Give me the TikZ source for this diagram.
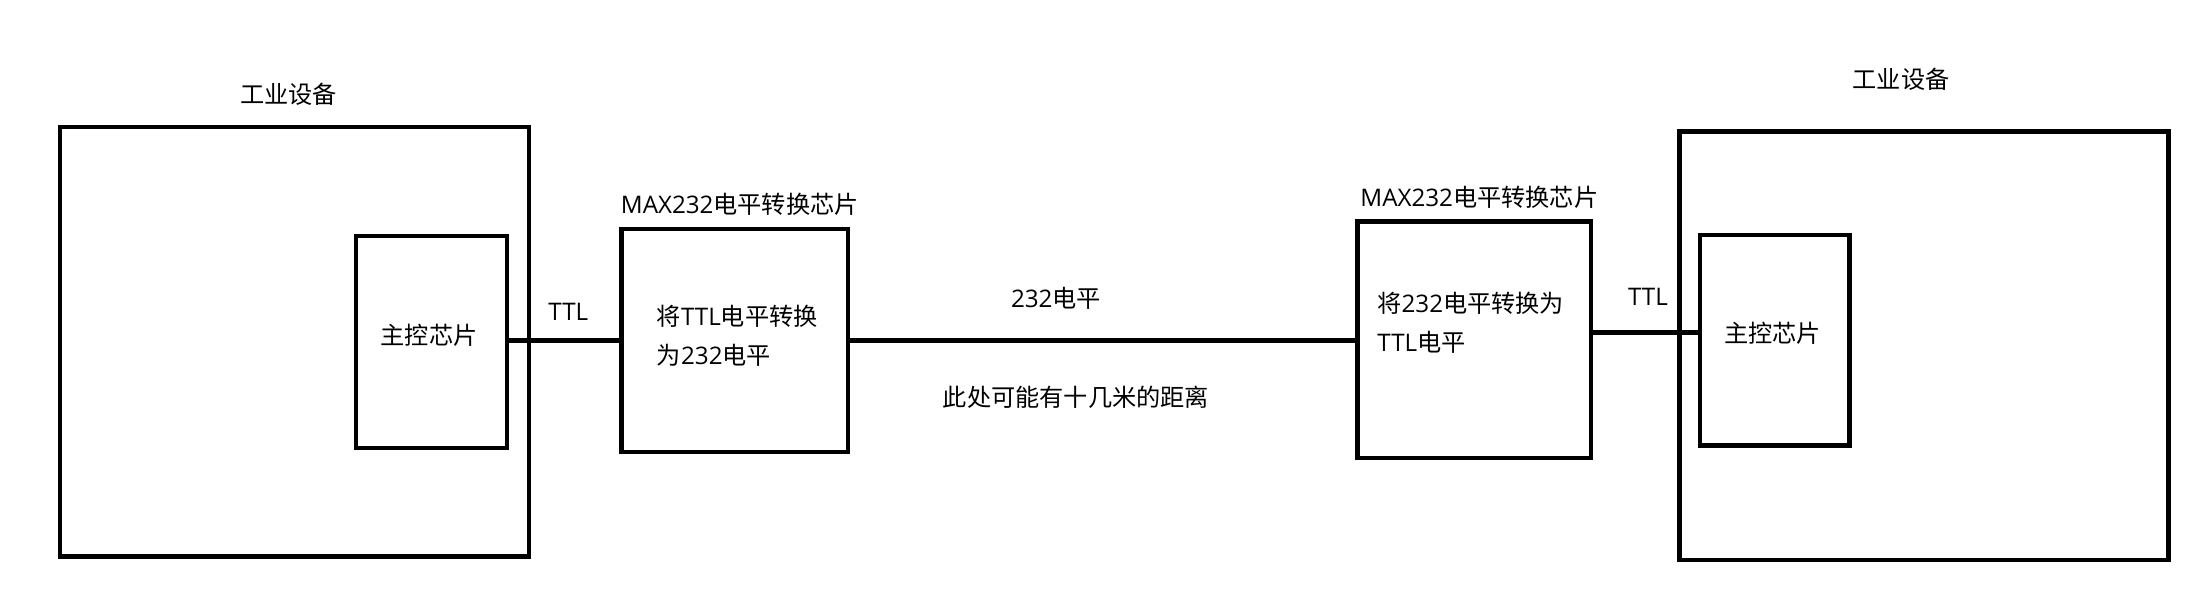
\documentclass[tikz,border=0pt]{standalone}
\usepackage{fontspec}
\setmainfont{Noto Sans CJK SC}
\newfontfamily\lat{Open Sans}
\begin{document}
\begin{tikzpicture}[x=0.5pt,y=-0.5pt,
  box/.style={draw=black,line width=2.2pt,inner sep=0pt},
  wire/.style={draw=black,line width=2.2pt},
  lbl/.style={inner sep=0pt,text=black,font=\fontsize{12.1pt}{19.5pt}\selectfont}]
\useasboundingbox[fill=white] (0,0) rectangle (2197,603);
% boxes
\node[box,minimum width=234.5pt,minimum height=214.8pt] (Lout) at (294.5,341.7) {};
\node[box,minimum width=75.5pt,minimum height=106pt] (Lchip) at (431.5,341.8) {};
\node[box,minimum width=113.3pt,minimum height=111.5pt] (LMAX) at (734.8,340.5) {};
\node[box,minimum width=116.7pt,minimum height=118.3pt] (RMAX) at (1474,340) {};
\node[box,minimum width=244.5pt,minimum height=214.2pt] (Rout) at (1923.8,345.8) {};
\node[box,minimum width=74.7pt,minimum height=105.3pt] (Rchip) at (1774.7,340.3) {};
% wires
\draw[wire] (LMAX.west -| Lchip.east) -- (LMAX.west);
\draw[wire] (LMAX.east) -- (LMAX.east -| RMAX.west);
\path (RMAX.east) ++(0,-7.5) coordinate (ra);
\draw[wire] (ra) -- (ra -| Rchip.west);
% labels
\node[lbl] (Ltitle) at (288.5,94) {工业设备};
\node[lbl] (Rtitle) at (1901,79) {工业设备};
\node[lbl] (Lchiptxt) at (429,335) {主控芯片};
\node[lbl] (Rchiptxt) at (1772.5,333.3) {主控芯片};
\node[lbl,anchor=west] (LMAXlbl) at (620.5,204) {{\lat MAX232}电平转换芯片};
\node[lbl,anchor=west] (RMAXlbl) at (1360,197) {{\lat MAX232}电平转换芯片};
\node[lbl,anchor=west,align=left] (LMAXtxt) at (656.5,335.5) {将{\lat TTL}电平转换\\为{\lat 232}电平};
\node[lbl,anchor=west,align=left] (RMAXtxt) at (1377,323) {将{\lat 232}电平转换为\\{\lat TTL}电平};
\node[lbl,font=\lat\fontsize{12.1pt}{19.5pt}\selectfont] (Lttl) at (568.3,312) {TTL};
\node[lbl,font=\lat\fontsize{12.1pt}{19.5pt}\selectfont] (Rttl) at (1648,297) {TTL};
\node[lbl] (mid1) at (1056,298) {{\lat 232}电平};
\node[lbl] (mid2) at (1076,397) {此处可能有十几米的距离};
\end{tikzpicture}
\end{document}
